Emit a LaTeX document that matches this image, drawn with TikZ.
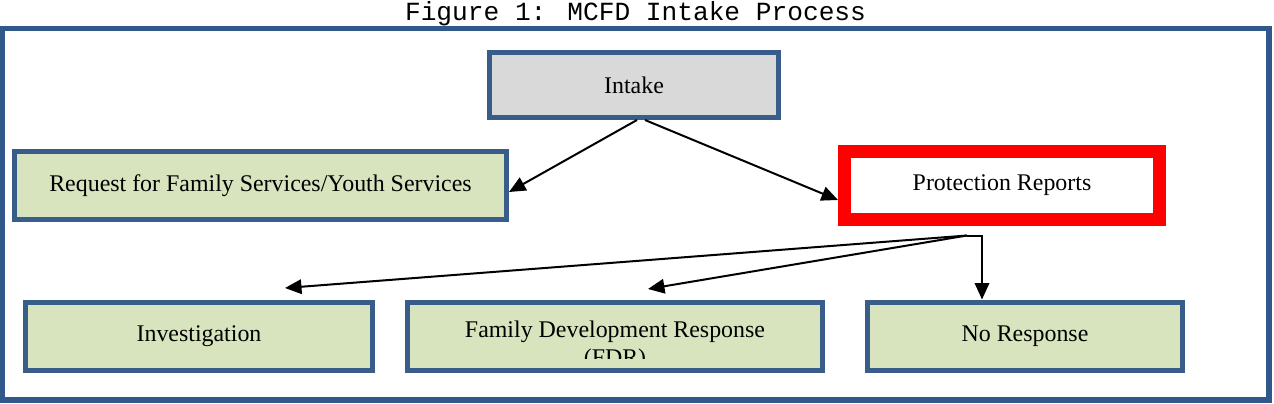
\documentclass[tikz,border=0pt]{standalone}
\usepackage{fontspec}
\setmainfont{Liberation Serif}
\newfontfamily\titlefont{Liberation Mono}
\usetikzlibrary{arrows.meta}
\definecolor{boxblue}{HTML}{385D8A}
\definecolor{framblue}{HTML}{30588A}
\definecolor{boxgreen}{HTML}{D7E4BD}
\definecolor{boxgrey}{HTML}{D9D9D9}
\begin{document}
\begin{tikzpicture}[font=\fontsize{13.6}{15.6}\selectfont,
  blk/.style={draw=boxblue, line width=0.1cm, fill=boxgreen,
              minimum height=1.36cm, inner sep=0pt, align=center},
  top/.style={blk, fill=boxgrey, minimum width=5.78cm, minimum height=1.3cm},
  prot/.style={draw=red, line width=0.26cm, fill=white, minimum width=6.3cm,
               minimum height=1.36cm, inner sep=0pt},
  arr/.style={-{Triangle[length=0.33cm, width=0.29cm]}, line width=0.04cm}
]
  \useasboundingbox (0,0) rectangle (25.48,-8.08);
  \node[anchor=base, font=\titlefont\fontsize{14.9}{16}\selectfont] (title) at (12.71,-0.41)
    {Figure 1: MCFD Intake Process};
  \draw[framblue, line width=0.11cm] (0.05,-0.57) rectangle (25.38,-8.0);

  \node[top] (intake) at (12.68,-1.70) {Intake};
  \node[blk, minimum width=9.84cm] (request) at (5.21,-3.71) {Request for Family Services/Youth Services};
  \node[prot] (protect) at (20.04,-3.71) {Protection Reports};
  \node[blk, minimum width=6.94cm] (invest) at (3.98,-6.72) {Investigation};
  \node[blk, minimum width=8.30cm] (fdr) at (12.30,-6.72) {};
  \node[blk, minimum width=6.30cm] (noresp) at (20.50,-6.72) {No Response};
  % second line of the FDR text is cut off
  \begin{scope}
    \clip ([yshift=0.29cm]fdr.south west) rectangle (fdr.north east);
    \node[anchor=base] (fdr1) at ([yshift=-0.03cm]fdr.center) {Family Development Response};
    \node[anchor=base] (fdr2) at ([yshift=-0.59cm]fdr.center) {(FDR)};
  \end{scope}

  \draw[arr] ([xshift=0.06cm]intake.south) -- ([yshift=-0.13cm]request.east);
  \draw[arr] ([xshift=0.22cm]intake.south) -- ([yshift=-0.29cm]protect.west);

  \coordinate (fork) at ([xshift=-0.7cm,yshift=-0.19cm]protect.south);
  \draw[arr] (fork) -- ([xshift=1.72cm,yshift=0.23cm]invest.north);
  \draw[arr] (fork) -- ([xshift=0.66cm,yshift=0.21cm]fdr.north);
  \draw[arr] (fork) -| ([xshift=-0.86cm]noresp.north);
\end{tikzpicture}
\end{document}
